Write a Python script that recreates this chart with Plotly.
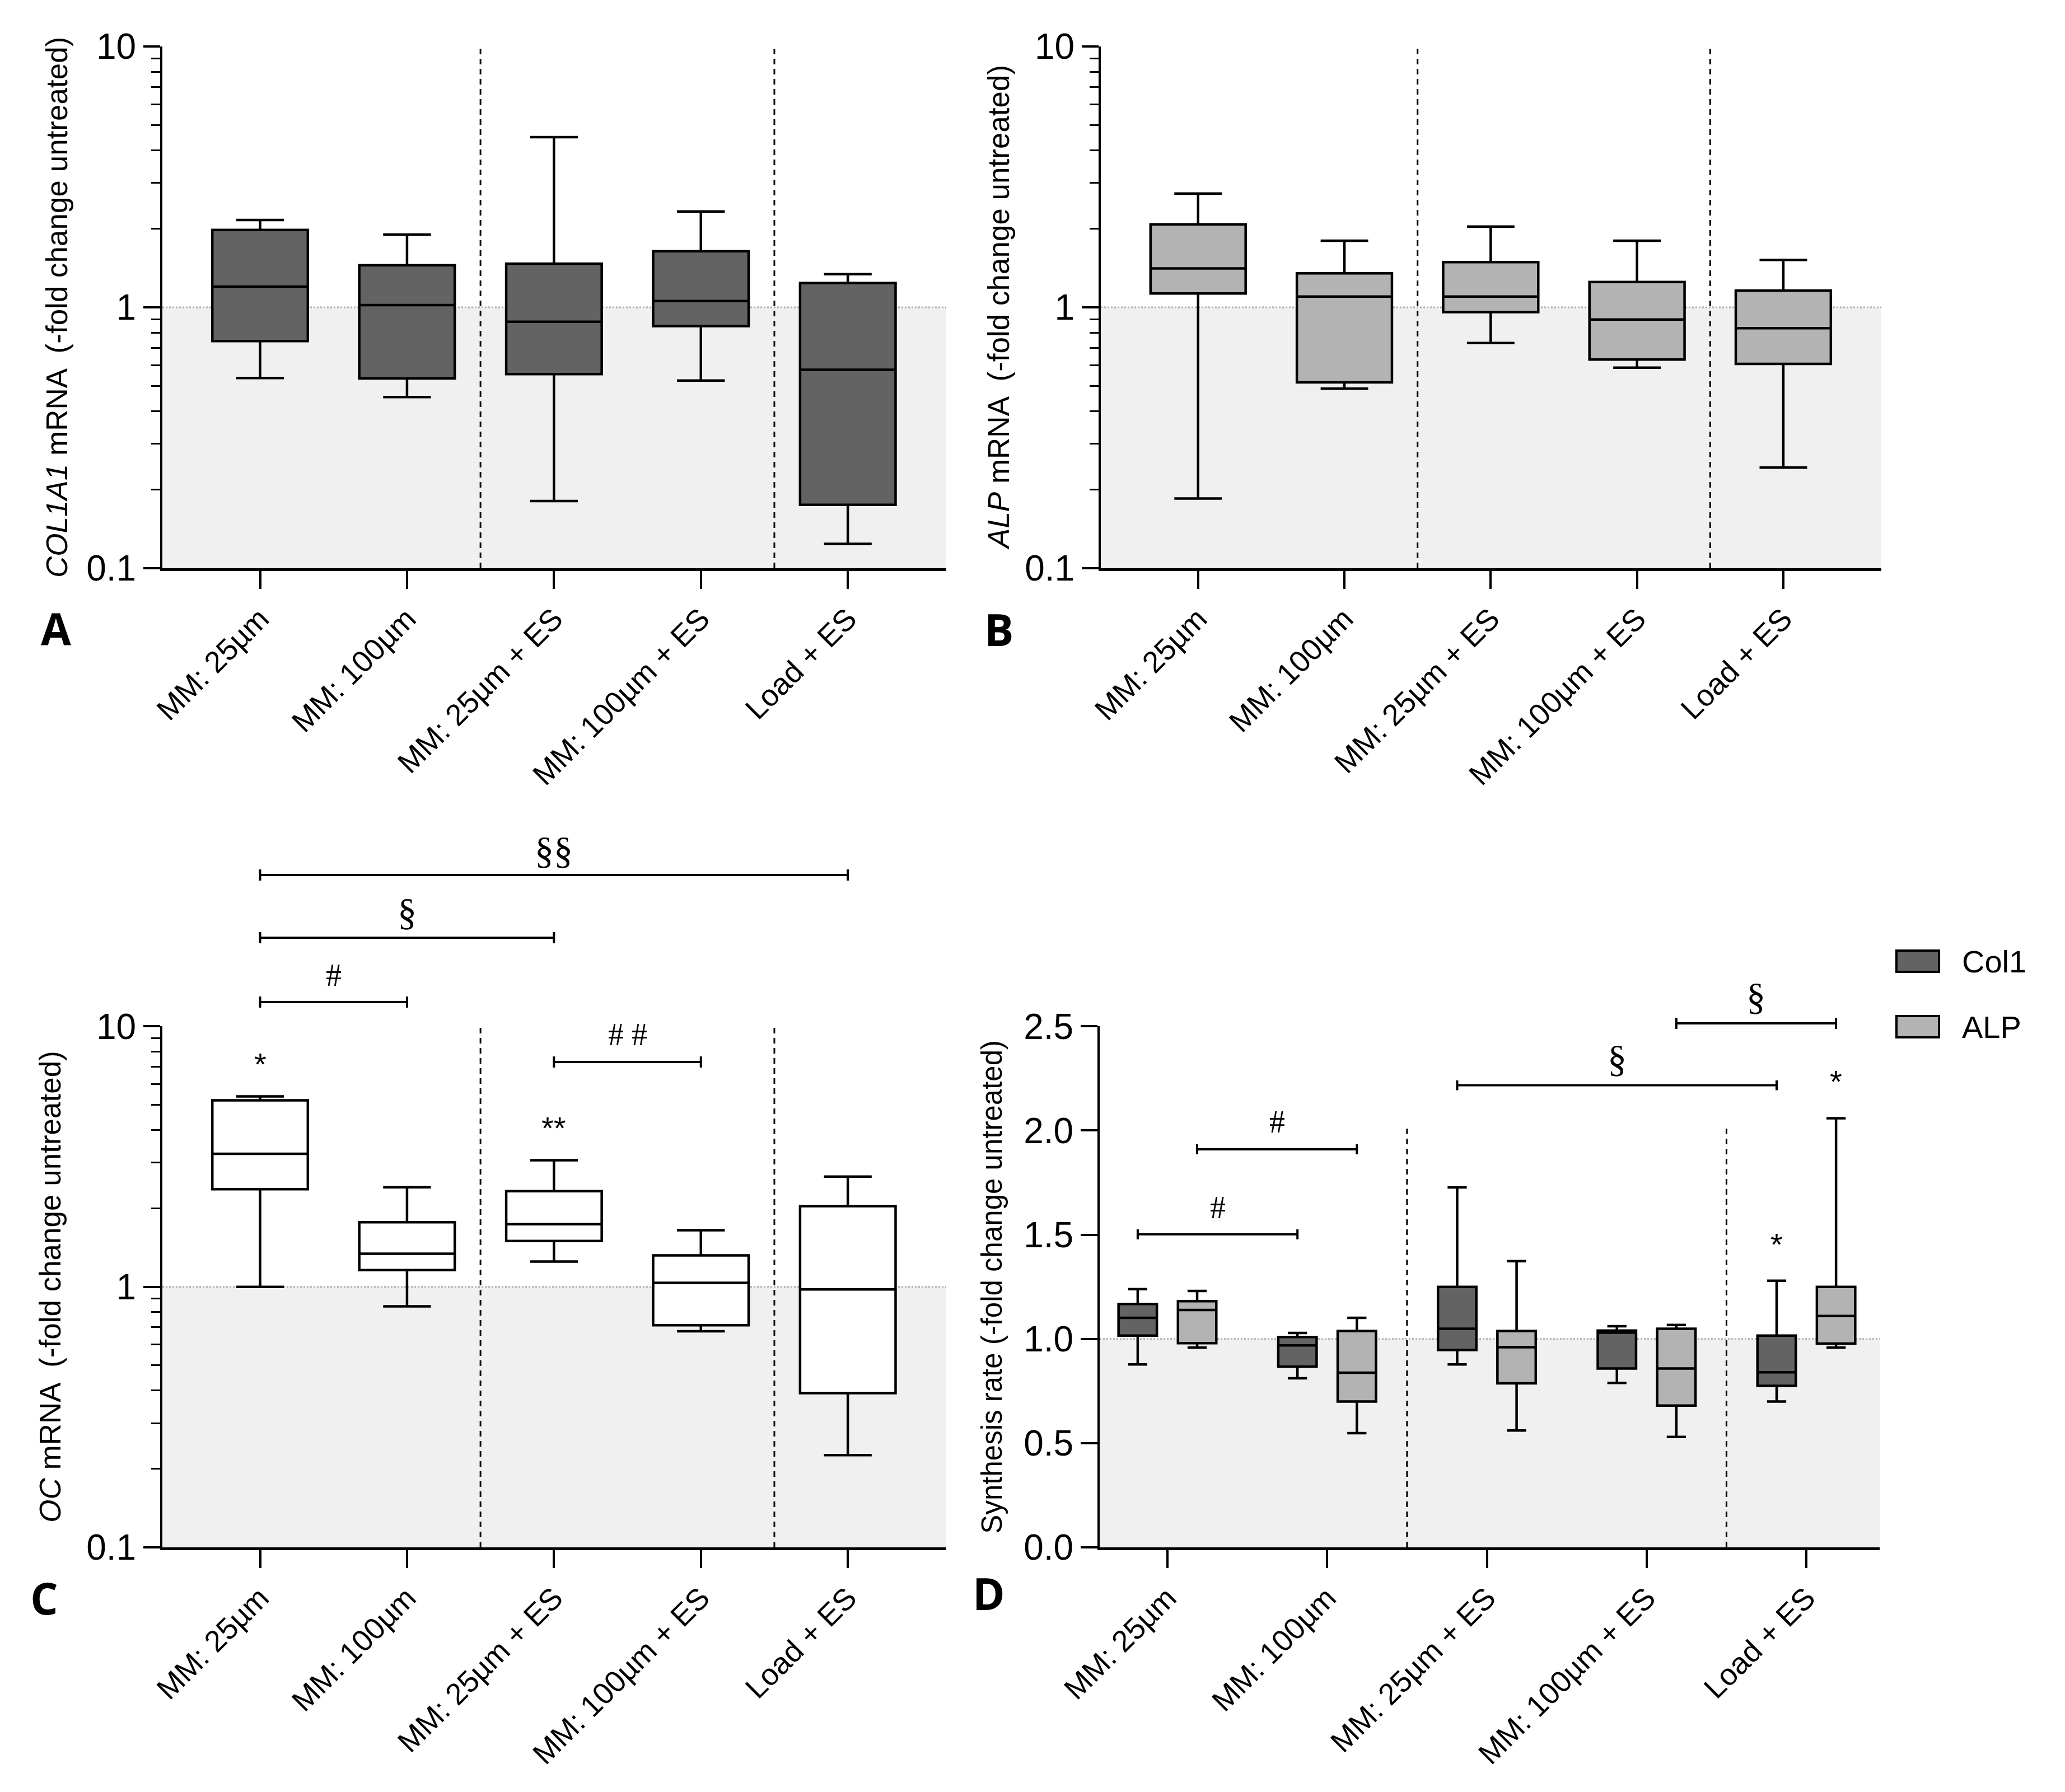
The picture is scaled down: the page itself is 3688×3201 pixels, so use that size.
import plotly.graph_objects as go

W, H = 3688, 3201

groups = ['MM: 25µm', 'MM: 100µm', 'MM: 25µm + ES', 'MM: 100µm + ES', 'Load + ES']

# A - COL1A1 mRNA (-fold change untreated)
col1a1_low = [0.536, 0.453, 0.181, 0.524, 0.124]
col1a1_q1 = [0.742, 0.534, 0.555, 0.847, 0.175]
col1a1_med = [1.20, 1.02, 0.88, 1.057, 0.576]
col1a1_q3 = [1.98, 1.45, 1.47, 1.64, 1.24]
col1a1_high = [2.16, 1.90, 4.49, 2.33, 1.34]

# B - ALP mRNA
alp_low = [0.185, 0.488, 0.730, 0.587, 0.243]
alp_q1 = [1.13, 0.516, 0.959, 0.631, 0.607]
alp_med = [1.41, 1.10, 1.10, 0.898, 0.832]
alp_q3 = [2.08, 1.35, 1.49, 1.25, 1.16]
alp_high = [2.73, 1.80, 2.04, 1.80, 1.52]

# C - OC mRNA
oc_low = [1.00, 0.842, 1.25, 0.675, 0.226]
oc_q1 = [2.37, 1.16, 1.50, 0.712, 0.391]
oc_med = [3.24, 1.34, 1.74, 1.036, 0.978]
oc_q3 = [5.20, 1.77, 2.33, 1.32, 2.04]
oc_high = [5.38, 2.41, 3.06, 1.65, 2.65]

# D - synthesis rate, Col1 and ALP
syn_col1_low = [0.878, 0.811, 0.878, 0.789, 0.700]
syn_col1_q1 = [1.016, 0.867, 0.947, 0.858, 0.775]
syn_col1_med = [1.101, 0.969, 1.049, 1.030, 0.840]
syn_col1_q3 = [1.168, 1.009, 1.250, 1.040, 1.016]
syn_col1_high = [1.239, 1.029, 1.727, 1.061, 1.279]

syn_alp_low = [0.958, 0.548, 0.561, 0.530, 0.958]
syn_alp_q1 = [0.980, 0.700, 0.787, 0.680, 0.978]
syn_alp_med = [1.139, 0.838, 0.960, 0.858, 1.110]
syn_alp_q3 = [1.181, 1.038, 1.038, 1.049, 1.250]
syn_alp_high = [1.230, 1.101, 1.373, 1.067, 2.059]

DARK = '#636363'
LIGHT = '#b3b3b3'
SHADE = '#f0f0f0'
TXT_FONT = 'Liberation Sans, Arial, sans-serif'
SIG_FONT = 'Liberation Serif, serif'


def px(x):
    return x / W


def py(y):
    return 1 - y / H


minor_log = [k * 10.0 ** e for e in (-1, 0) for k in range(2, 10)]


def log_yaxis(dom, anchor):
    return dict(domain=dom, anchor=anchor, type='log', range=[-1, 1],
                tickvals=[0.1, 1, 10], ticktext=['0.1', '1', '10'],
                ticks='outside', ticklen=30, tickwidth=4, tickcolor='black',
                minor=dict(tickvals=minor_log, ticks='outside', ticklen=16,
                           tickwidth=3, tickcolor='black', showgrid=False),
                showline=True, linecolor='black', linewidth=4,
                showgrid=False, zeroline=False, automargin=False,
                tickfont=dict(family=TXT_FONT, size=64, color='black'))


def cat_xaxis(dom, anchor, rng):
    return dict(domain=dom, anchor=anchor, type='category', range=rng,
                tickangle=-45, ticks='outside', ticklen=32, tickwidth=4,
                tickcolor='black', showline=True, linecolor='black',
                linewidth=5, showgrid=False, zeroline=False, automargin=False,
                tickfont=dict(family=TXT_FONT, size=54, color='black'))


fig = go.Figure()

box_style = dict(line=dict(color='black', width=4.5), whiskerwidth=0.5,
                 showlegend=False, hoverinfo='skip')

fig.add_trace(go.Box(x=groups, q1=col1a1_q1, median=col1a1_med, q3=col1a1_q3,
                     lowerfence=col1a1_low, upperfence=col1a1_high,
                     fillcolor=DARK, width=0.65, xaxis='x', yaxis='y',
                     **box_style))
fig.add_trace(go.Box(x=groups, q1=alp_q1, median=alp_med, q3=alp_q3,
                     lowerfence=alp_low, upperfence=alp_high,
                     fillcolor=LIGHT, width=0.65, xaxis='x2', yaxis='y2',
                     **box_style))
fig.add_trace(go.Box(x=groups, q1=oc_q1, median=oc_med, q3=oc_q3,
                     lowerfence=oc_low, upperfence=oc_high,
                     fillcolor='white', width=0.65, xaxis='x3', yaxis='y3',
                     **box_style))

off = 0.186
pos = list(range(len(groups)))
fig.add_trace(go.Box(x=[p - off for p in pos], q1=syn_col1_q1, median=syn_col1_med,
                     q3=syn_col1_q3, lowerfence=syn_col1_low, upperfence=syn_col1_high,
                     fillcolor=DARK, width=0.24, xaxis='x4', yaxis='y4',
                     name='Col1', **box_style))
fig.add_trace(go.Box(x=[p + off for p in pos], q1=syn_alp_q1, median=syn_alp_med,
                     q3=syn_alp_q3, lowerfence=syn_alp_low, upperfence=syn_alp_high,
                     fillcolor=LIGHT, width=0.24, xaxis='x4', yaxis='y4',
                     name='ALP', **box_style))

top_dom = [0.6854, 0.9766]
bot_dom = [0.139, 0.4298]

d_xaxis = cat_xaxis([px(1956), px(3349)], 'y4', [-0.424, 4.459])
d_xaxis.update(type='linear', tickvals=pos, ticktext=groups)

fig.update_layout(
    width=W, height=H, margin=dict(l=0, r=0, t=0, b=0), autosize=False,
    paper_bgcolor='white', plot_bgcolor='white', boxmode='overlay',
    xaxis=cat_xaxis([px(282), px(1682)], 'y', [-0.665, 4.67]),
    yaxis=log_yaxis(top_dom, 'x'),
    xaxis2=cat_xaxis([px(1958), px(3352)], 'y2', [-0.665, 4.67]),
    yaxis2=log_yaxis(top_dom, 'x2'),
    xaxis3=cat_xaxis([px(282), px(1682)], 'y3', [-0.665, 4.67]),
    yaxis3=log_yaxis(bot_dom, 'x3'),
    xaxis4=d_xaxis,
    yaxis4=dict(domain=bot_dom, anchor='x4', range=[0, 2.5], dtick=0.5,
                tickformat='.1f', ticks='outside', ticklen=30, tickwidth=4,
                tickcolor='black', showline=True, linecolor='black',
                linewidth=4, showgrid=False, zeroline=False, automargin=False,
                tickfont=dict(family=TXT_FONT, size=64, color='black')),
)

shapes = []
# shading below 1, baseline and dashed separators
for xr, yr, base, dash_top in [('x', 'y', 0.1, None), ('x2', 'y2', 0.1, None),
                               ('x3', 'y3', 0.1, None), ('x4', 'y4', 0, 2.02)]:
    shapes.append(dict(type='rect', xref=xr + ' domain', x0=0, x1=1, yref=yr,
                       y0=base, y1=1, fillcolor=SHADE, line=dict(width=0),
                       layer='below'))
    shapes.append(dict(type='line', xref=xr + ' domain', x0=0, x1=1, yref=yr,
                       y0=1, y1=1, line=dict(color='#b0b0b0', width=3, dash='dot'),
                       layer='below'))
    for sx in (1.5, 3.5):
        if dash_top is None:
            shapes.append(dict(type='line', xref=xr, x0=sx, x1=sx,
                               yref=yr + ' domain', y0=0, y1=1,
                               line=dict(color='black', width=3, dash='10px,8px'),
                               layer='below'))
        else:
            shapes.append(dict(type='line', xref=xr, x0=sx, x1=sx, yref=yr,
                               y0=base, y1=dash_top,
                               line=dict(color='black', width=3, dash='10px,8px'),
                               layer='below'))

annotations = []


def bracket(xr, yr, x0, x1, y, cap, label, ly, size=56):
    line = dict(color='black', width=4)
    shapes.append(dict(type='line', xref=xr, yref=yr, x0=x0, x1=x1, y0=y, y1=y, line=line))
    for xe in (x0, x1):
        shapes.append(dict(type='line', xref=xr, yref=yr, x0=xe, x1=xe,
                           y0=y - cap, y1=y + cap, line=line))
    annotations.append(dict(xref=xr, yref=yr, x=(x0 + x1) / 2, y=ly, text=label,
                            showarrow=False, font=dict(family=SIG_FONT, size=size, color='black')))


# C brackets (above plot, paper y)
cp = 0.0031
bracket('x3', 'paper', 0, 1, py(1782), cp, '#', py(1734))
bracket('x3', 'paper', 0, 2, py(1667), cp, '§', py(1621), size=68)
bracket('x3', 'paper', 0, 4, py(1555), cp, '§§', py(1511), size=68)
bracket('x3', 'paper', 2, 3, py(1889), cp, '# #', py(1840))
annotations.append(dict(xref='x3', yref='paper', x=0, y=py(1892), text='*', showarrow=False,
                        font=dict(family=TXT_FONT, size=56, color='black')))
annotations.append(dict(xref='x3', yref='paper', x=2, y=py(2006), text='**', showarrow=False,
                        font=dict(family=TXT_FONT, size=56, color='black')))

# D brackets
dc = 0.024
bracket('x4', 'y4', 0 - off, 1 - off, 1.502, dc, '#', 1.63)
bracket('x4', 'y4', 0 + off, 1 + off, 1.91, dc, '#', 2.04)
bracket('x4', 'y4', 2 - off, 4 - off, 2.217, dc, '§', 2.345, size=68)
bracket('x4', 'paper', 3 + off, 4 + off, py(1820), cp, '§', py(1772), size=68)
annotations.append(dict(xref='x4', yref='y4', x=4 - off, y=1.455, text='*', showarrow=False,
                        font=dict(family=TXT_FONT, size=56, color='black')))
annotations.append(dict(xref='x4', yref='y4', x=4 + off, y=2.235, text='*', showarrow=False,
                        font=dict(family=TXT_FONT, size=56, color='black')))

# axis titles
for x, y, t, s in [(94, sum(top_dom) / 2, '<i>COL1A1</i> mRNA  (-fold change untreated)', 53),
                   (1776, sum(top_dom) / 2, '<i>ALP</i> mRNA  (-fold change untreated)', 53),
                   (82, sum(bot_dom) / 2, '<i>OC</i> mRNA  (-fold change untreated)', 53),
                   (1764, sum(bot_dom) / 2, 'Synthesis rate (-fold change untreated)', 51)]:
    annotations.append(dict(xref='paper', yref='paper', x=px(x), y=y, text=t,
                            textangle=-90, showarrow=False,
                            font=dict(family=TXT_FONT, size=s, color='black'),
                            xanchor='center', yanchor='middle'))

# panel letters
for x, y, t in [(92, 1114, 'A'), (1776, 1116, 'B'), (71, 2846, 'C'), (1758, 2838, 'D')]:
    annotations.append(dict(xref='paper', yref='paper', x=px(x), y=py(y), text='<b>%s</b>' % t,
                            showarrow=False, xanchor='center', yanchor='middle',
                            font=dict(family='Open Sans, sans-serif', size=78, color='black')))

# legend
for name, col, yc in [('Col1', DARK, 1709), ('ALP', LIGHT, 1826)]:
    shapes.append(dict(type='rect', xref='paper', yref='paper', x0=px(3379), x1=px(3455),
                       y0=py(yc + 19), y1=py(yc - 19), fillcolor=col,
                       line=dict(color='black', width=4)))
    annotations.append(dict(xref='paper', yref='paper', x=px(3494), y=py(yc), text=name,
                            xanchor='left', yanchor='middle', showarrow=False,
                            font=dict(family=TXT_FONT, size=56, color='black')))

fig.update_layout(shapes=shapes, annotations=annotations)

fig.write_html('out.html')
